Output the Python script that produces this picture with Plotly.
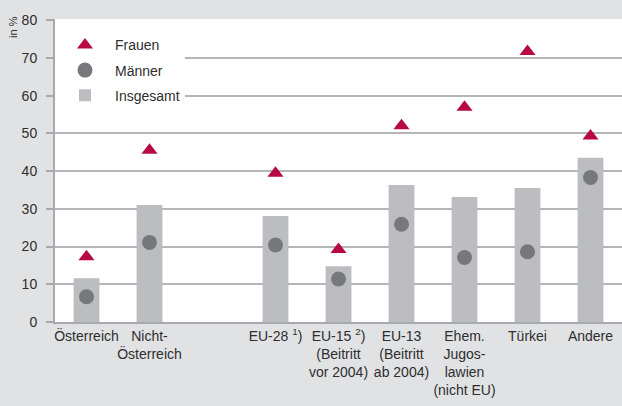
import plotly.graph_objects as go

categories = ["Österreich", "Nicht-<br>Österreich", "EU-28 <sup>1</sup>)",
              "EU-15 <sup>2</sup>)<br>(Beitritt<br>vor 2004)",
              "EU-13<br>(Beitritt<br>ab 2004)",
              "Ehem.<br>Jugos-<br>lawien<br>(nicht EU)",
              "Türkei", "Andere"]
spacer = " "
axis_order = categories[:2] + [spacer] + categories[2:]

insgesamt = [11.6, 31.0, 28.1, 14.8, 36.3, 33.1, 35.5, 43.5]
maenner = [6.7, 21.1, 20.4, 11.4, 25.9, 17.1, 18.6, 38.3]
frauen = [17.3, 45.5, 39.4, 19.2, 52.0, 56.9, 71.7, 49.3]

y_ticks = [0, 10, 20, 30, 40, 50, 60, 70, 80]
grid_vals = [10, 20, 30, 40, 50, 60, 70]

FONT = "Liberation Sans, Arial, sans-serif"
TXT = "#2e2e2e"
GRID = "#b4b5b8"
AXIS = "#a8a9ac"

fig = go.Figure()
fig.add_trace(go.Bar(x=categories, y=insgesamt, name="Insgesamt",
                     marker=dict(color="#bcbdc0", line=dict(width=0)),
                     width=0.41, legendgroup="c", legendrank=3))
fig.add_trace(go.Scatter(x=categories, y=maenner, name="Männer", mode="markers",
                         marker=dict(symbol="circle", size=15, color="#77787c"),
                         legendgroup="b", legendrank=2))
fig.add_trace(go.Scatter(x=categories, y=frauen, name="Frauen", mode="markers",
                         marker=dict(symbol="triangle-up", size=14, color="#b70a45"),
                         legendgroup="a", legendrank=1))
# invisible trace carrying the gridline axis
fig.add_trace(go.Scatter(x=[categories[0]], y=[None], yaxis="y2", showlegend=False,
                         hoverinfo="skip"))

fig.update_layout(
    width=622, height=406,
    paper_bgcolor="#e1e2e4", plot_bgcolor="#ffffff",
    margin=dict(l=55, r=0, t=19, b=84, autoexpand=False),
    font=dict(family=FONT, size=14, color=TXT),
    barmode="overlay",
    showlegend=True,
    legend=dict(x=0.0, y=0.966, xanchor="left", yanchor="top",
                bgcolor="#ffffff", borderwidth=0, itemwidth=50,
                traceorder="grouped", tracegroupgap=4,
                font=dict(size=14, color=TXT)),
    xaxis=dict(type="category", categoryorder="array", categoryarray=axis_order,
               range=[-0.5, 8.5], showgrid=False, showline=True, automargin=False,
               tickangle=0,
               linecolor=AXIS, linewidth=2, ticks="", tickfont=dict(size=14, color=TXT)),
    yaxis=dict(range=[0, 80.3], tickvals=y_ticks, showgrid=False, zeroline=False,
               showline=True, linecolor=AXIS, linewidth=2, automargin=False,
               ticks="outside", ticklen=7, tickwidth=1.5, tickcolor=AXIS,
               ticklabelstandoff=6, tickfont=dict(size=14, color=TXT)),
    yaxis2=dict(range=[0, 80.3], overlaying="y", tickvals=grid_vals, showgrid=True,
                gridcolor=GRID, gridwidth=1.5, showticklabels=False, zeroline=False,
                showline=False, ticks="", layer="below traces", automargin=False),
    annotations=[dict(text="in %", textangle=-90, xref="paper", yref="paper",
                      x=-0.074, y=0.974, xanchor="center", yanchor="middle",
                      showarrow=False, font=dict(size=11, color=TXT))],
)

fig.write_html("out.html", config={"displayModeBar": False},
               post_script="document.body.style.margin='0';"
                           "document.body.style.overflow='hidden';")
